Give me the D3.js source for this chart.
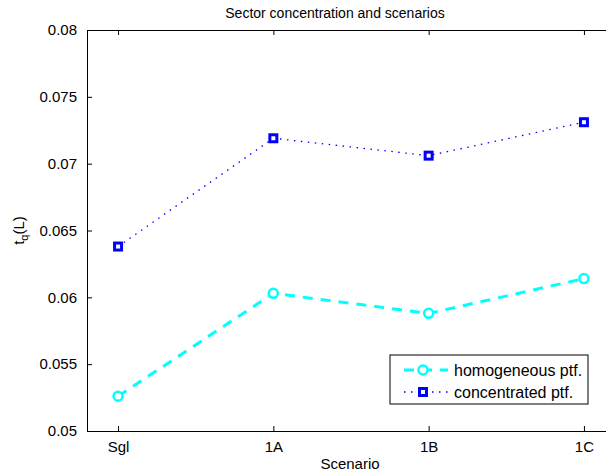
<!DOCTYPE html>
<html lang="en">
<head>
    <meta charset="UTF-8">
    <title>Sector concentration and scenarios</title>
    <script type="text/javascript" src="https://cdnjs.cloudflare.com/ajax/libs/d3/7.8.5/d3.min.js"></script>
    <style>
        body { margin: 0; background: #fff; overflow: hidden; }
        text { font-family: "Liberation Sans", Arial, Helvetica, sans-serif; fill: #000; }
    </style>
</head>
<body>
    <div id="draw-here"></div>

    <script>
    /* global d3 */

    // data
    var scenarios = ["Sgl", "1A", "1B", "1C"];
    var homogeneous = [0.0526, 0.0603, 0.0588, 0.0614];
    var concentrated = [0.0638, 0.0719, 0.0706, 0.0731];
    var yTicks = [0.05, 0.055, 0.06, 0.065, 0.07, 0.075, 0.08];
    var yTickLabels = ["0.05", "0.055", "0.06", "0.065", "0.07", "0.075", "0.08"];
    var legendLabels = ["homogeneous ptf.", "concentrated ptf."];

    //size of page
    var w = 606;
    var h = 473;

    // plot box (right edge runs off the picture, like the reference)
    // note: can't call these top/left at global scope, window.top is taken
    var boxLeft = 87, boxRight = 615, boxTop = 30, boxBottom = 431;

    var x = d3.scaleLinear().domain([0.8, 4.2]).range([boxLeft, boxRight]);
    var y = d3.scaleLinear().domain([0.05, 0.08]).range([boxBottom, boxTop]);

    var svg = d3.select("#draw-here")
        .append("svg")
        .attr("width", w)
        .attr("height", h);

    // axes, ticks point inwards like matlab
    var xIdx = scenarios.map(function(d, i) { return i + 1; });

    function style_axis(g) {
        g.select(".domain").attr("stroke", "#000").attr("stroke-width", 1);
        g.selectAll(".tick line").attr("stroke", "#000").attr("stroke-width", 1);
        g.selectAll(".tick text").attr("font-size", "15px").attr("fill", "#000")
            .attr("font-family", "Liberation Sans, Arial, sans-serif");
    }

    svg.append("g")
        .attr("transform", "translate(0," + boxBottom + ")")
        .call(d3.axisBottom(x).tickValues(xIdx).tickSize(-5).tickSizeOuter(0).tickPadding(10)
            .tickFormat(function(d) { return scenarios[d - 1]; }))
        .call(style_axis);

    svg.append("g")
        .attr("transform", "translate(0," + boxTop + ")")
        .call(d3.axisTop(x).tickValues(xIdx).tickSize(-5).tickSizeOuter(0).tickFormat(""))
        .call(style_axis);

    svg.append("g")
        .attr("transform", "translate(" + boxLeft + ",0)")
        .call(d3.axisLeft(y).tickValues(yTicks).tickSize(-5).tickSizeOuter(0).tickPadding(10)
            .tickFormat(function(d, i) { return yTickLabels[i]; }))
        .call(style_axis);

    svg.append("g")
        .attr("transform", "translate(" + boxRight + ",0)")
        .call(d3.axisRight(y).tickValues(yTicks).tickSize(-5).tickSizeOuter(0).tickFormat(""))
        .call(style_axis);

    // title and axis labels
    svg.append("text")
        .attr("x", 335)
        .attr("y", 18)
        .attr("text-anchor", "middle")
        .attr("font-size", "14px")
        .text("Sector concentration and scenarios");

    svg.append("text")
        .attr("x", 350)
        .attr("y", 469)
        .attr("text-anchor", "middle")
        .attr("font-size", "15px")
        .text("Scenario");

    var ylab = svg.append("text")
        .attr("transform", "translate(24," + ((boxTop + boxBottom) / 2) + ") rotate(-90)")
        .attr("text-anchor", "middle")
        .attr("font-size", "15px");
    ylab.append("tspan").text("t");
    ylab.append("tspan").attr("font-size", "11px").attr("dy", 4).text("q");
    ylab.append("tspan").attr("dy", -4).text("(L)");

    // lines
    var line = d3.line()
        .x(function(d, i) { return x(i + 1); })
        .y(function(d) { return y(d); });

    svg.append("path")
        .datum(homogeneous)
        .attr("d", line)
        .attr("fill", "none")
        .attr("stroke", "#00ffff")
        .attr("stroke-width", 3)
        .attr("stroke-dasharray", "10,8");

    svg.append("path")
        .datum(concentrated)
        .attr("d", line)
        .attr("fill", "none")
        .attr("stroke", "#0000ff")
        .attr("stroke-width", 1.3)
        .attr("stroke-dasharray", "1.5,5.5");

    // markers
    svg.selectAll("circle.hom")
        .data(homogeneous)
        .enter()
        .append("circle")
        .attr("class", "hom")
        .attr("cx", function(d, i) { return x(i + 1); })
        .attr("cy", function(d) { return y(d); })
        .attr("r", 4.5)
        .attr("fill", "#fff")
        .attr("stroke", "#00ffff")
        .attr("stroke-width", 2.5);

    svg.selectAll("rect.con")
        .data(concentrated)
        .enter()
        .append("rect")
        .attr("class", "con")
        .attr("x", function(d, i) { return x(i + 1) - 3.5; })
        .attr("y", function(d) { return y(d) - 3.5; })
        .attr("width", 7)
        .attr("height", 7)
        .attr("fill", "#fff")
        .attr("stroke", "#0000ff")
        .attr("stroke-width", 3);

    // legend
    var lg = svg.append("g").attr("transform", "translate(390,355)");
    lg.append("rect")
        .attr("width", 198)
        .attr("height", 49)
        .attr("fill", "#fff")
        .attr("stroke", "#000")
        .attr("stroke-width", 1);

    var rows = lg.selectAll("g.row")
        .data(legendLabels)
        .enter()
        .append("g")
        .attr("transform", function(d, i) { return "translate(0," + (15 + i * 22) + ")"; });

    rows.append("line")
        .attr("x1", 14).attr("x2", 58).attr("y1", 0).attr("y2", 0)
        .attr("stroke", function(d, i) { return i === 0 ? "#00ffff" : "#0000ff"; })
        .attr("stroke-width", function(d, i) { return i === 0 ? 3 : 1.3; })
        .attr("stroke-dasharray", function(d, i) { return i === 0 ? "10,8" : "1.5,5.5"; });

    rows.filter(function(d, i) { return i === 0; })
        .append("circle")
        .attr("cx", 33).attr("cy", 0).attr("r", 4.5)
        .attr("fill", "#fff").attr("stroke", "#00ffff").attr("stroke-width", 2.5);

    rows.filter(function(d, i) { return i === 1; })
        .append("rect")
        .attr("x", 29.5).attr("y", -3.5).attr("width", 7).attr("height", 7)
        .attr("fill", "#fff").attr("stroke", "#0000ff").attr("stroke-width", 3);

    rows.append("text")
        .attr("x", 64)
        .attr("y", 5.5)
        .attr("font-size", "16px")
        .text(function(d) { return d; });
    </script>
</body>
</html>
